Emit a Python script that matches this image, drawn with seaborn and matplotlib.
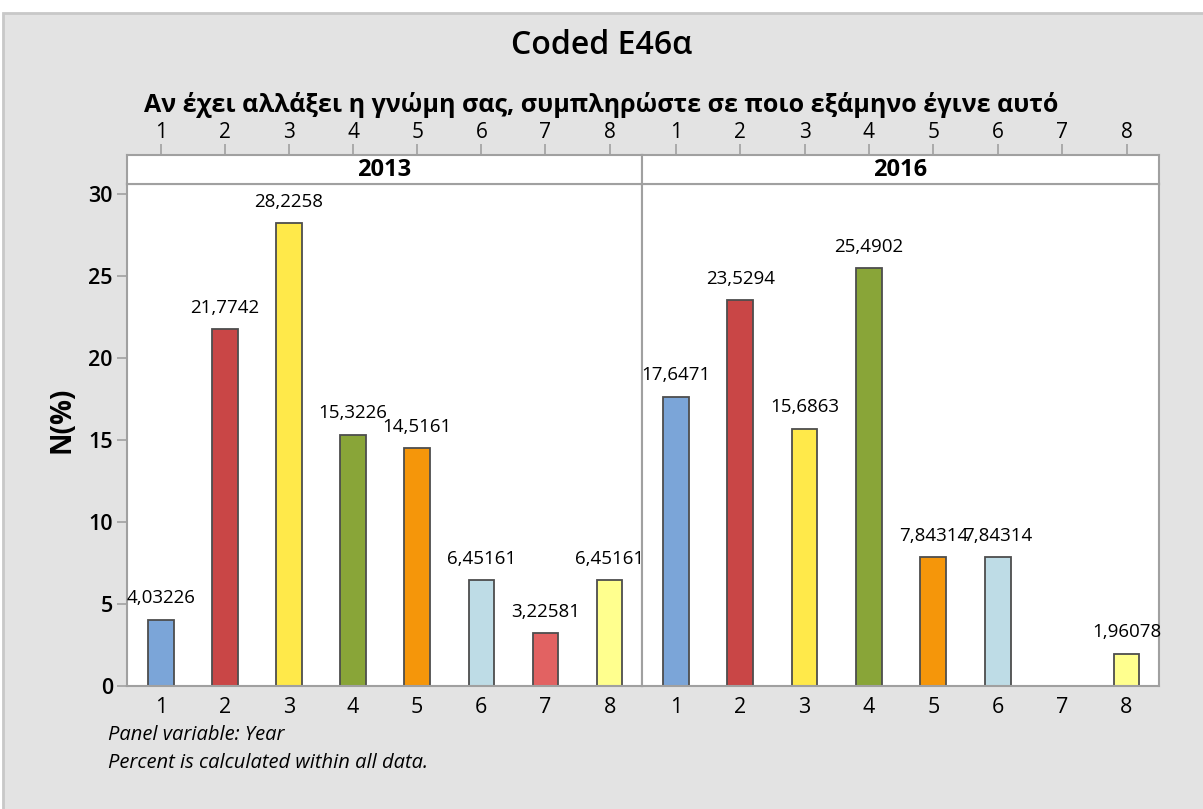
import matplotlib
matplotlib.use("Agg")
import matplotlib.pyplot as plt
import matplotlib.patches as mpatches
import seaborn as sns
import pandas as pd

# --- data ---
categories = ["1", "2", "3", "4", "5", "6", "7", "8"]
years = ["2013", "2016"]
pct_2013 = [4.03226, 21.7742, 28.2258, 15.3226, 14.5161, 6.45161, 3.22581, 6.45161]
pct_2016 = [17.6471, 23.5294, 15.6863, 25.4902, 7.84314, 7.84314, 0, 1.96078]
bar_colors = ["#7BA5D8", "#C94646", "#FFE94A", "#89A538", "#F5960A",
              "#BEDCE6", "#E26262", "#FFFF8E"]

title = "Coded E46α"
subtitle = "Αν έχει αλλάξει η γνώμη σας, συμπληρώστε σε ποιο εξάμηνο έγινε αυτό"
footer = ["Panel variable: Year", "Percent is calculated within all data."]

df = pd.DataFrame({
    "Year": ["2013"] * 8 + ["2016"] * 8,
    "Cat": categories * 2,
    "Pct": pct_2013 + pct_2016,
})

sns.set_style("white")
plt.rcParams["font.family"] = ["Open Sans", "DejaVu Sans"]
plt.rcParams["text.color"] = "black"
plt.rcParams["xtick.labelcolor"] = "black"
plt.rcParams["ytick.labelcolor"] = "black"

W, H = 1203, 809
fig = plt.figure(figsize=(W / 100, H / 100), dpi=100)
fig.patch.set_facecolor("white")

# gray frame background
bg = mpatches.Rectangle((3 / W, -0.01), 1.1, 1 - 13 / H + 0.01, transform=fig.transFigure,
                        facecolor="#E3E3E3", edgecolor="#C8C8C8", lw=2, zorder=-10)
fig.patches.append(bg)

gray = "#A0A0A0"
panel_x = [(126.7, 641.7), (641.7, 1158.7)]
y_bot, y_top, strip_top = 686, 184, 155
pal = dict(zip(categories, bar_colors))

for i, yr in enumerate(years):
    x0, x1 = panel_x[i]
    ax = fig.add_axes([x0 / W, (H - y_bot) / H, (x1 - x0) / W, (y_bot - y_top) / H])
    sub = df[(df["Year"] == yr) & (df["Pct"] > 0)]
    sns.barplot(data=sub, x="Cat", y="Pct", hue="Cat", order=categories,
                hue_order=categories, palette=pal, width=0.4, legend=False,
                saturation=1, edgecolor="#4D4D4D", linewidth=1.3, ax=ax)
    ax.set_xlim(-0.53, 7.5)
    ax.set_ylim(0, 30.63)
    ax.set_facecolor("white")
    for s in ax.spines.values():
        s.set_color(gray)
        s.set_linewidth(1.5)
    ax.set_xlabel("")
    ax.set_ylabel("")
    ax.tick_params(axis="x", length=6, color=gray, width=1.2, labelsize=15.5, pad=2)
    if i == 0:
        ax.set_yticks([0, 5, 10, 15, 20, 25, 30])
        ax.tick_params(axis="y", length=7, color=gray, width=1.2, labelsize=15.5, pad=3, left=True)
        for t in ax.get_yticklabels():
            t.set_fontweight("semibold")
    else:
        ax.set_yticks([])
    for t in ax.get_xticklabels():
        t.set_fontweight("medium")

    # value labels
    for cat, v in zip(sub["Cat"], sub["Pct"]):
        lab = f"{v:.6g}".replace(".", ",")
        ax.annotate(lab, (categories.index(cat), v), xytext=(0, 9),
                    textcoords="offset points", ha="center", va="bottom",
                    fontsize=13.5)

    # strip with top ticks
    sax = fig.add_axes([x0 / W, (H - y_top) / H, (x1 - x0) / W, (y_top - strip_top) / H])
    sax.set_facecolor("white")
    sax.set_xlim(-0.53, 7.5)
    sax.set_ylim(0, 1)
    sax.set_yticks([])
    sax.set_xticks(range(8))
    sax.set_xticklabels(categories)
    sax.xaxis.set_ticks_position("top")
    sax.tick_params(axis="x", length=8, color=gray, width=1.2, labelsize=15, pad=1,
                    top=True, bottom=False)
    for s in sax.spines.values():
        s.set_color(gray)
        s.set_linewidth(1.5)
    sax.text(0.5, 0.5, yr, transform=sax.transAxes, ha="center", va="center",
             fontsize=17, fontweight="bold")

fig.text(62 / W, 1 - 420 / H, "N(%)", rotation=90, ha="center", va="center",
         fontsize=20, fontweight="bold")
fig.text(0.5, 1 - 46 / H, title, ha="center", va="center", fontsize=23, fontweight="semibold")
fig.text(0.5, 1 - 105 / H, subtitle, ha="center", va="center", fontsize=18, fontweight="bold")
fig.text(108 / W, 1 - 735 / H, footer[0], ha="left", va="center", fontsize=14.5, style="italic")
fig.text(108 / W, 1 - 763 / H, footer[1], ha="left", va="center", fontsize=14.5, style="italic")

fig.savefig("out.png", dpi=100, facecolor=fig.get_facecolor())
